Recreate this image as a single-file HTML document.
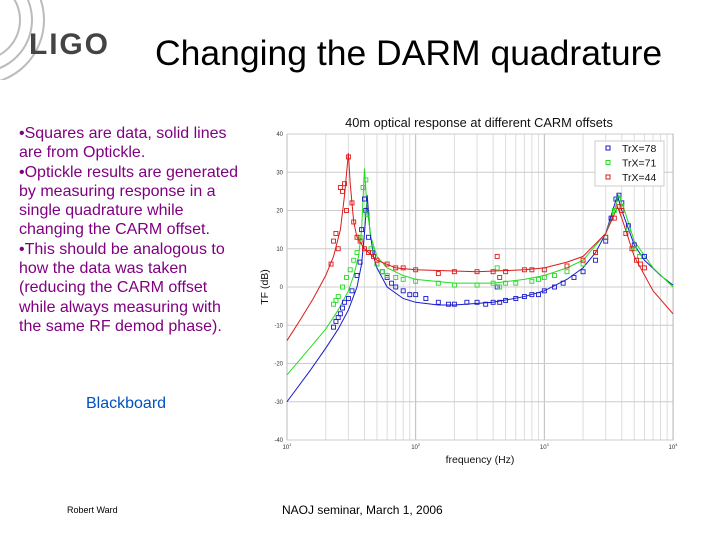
<!DOCTYPE html>
<html><head><meta charset="utf-8"><style>
body{margin:0;width:720px;height:540px;background:#fff;position:relative;overflow:hidden;font-family:"Liberation Sans",sans-serif}
.abs{position:absolute}
#bul{left:19px;top:124px;font-size:16px;line-height:19.3px;color:#800080;white-space:nowrap}
</style></head><body>
<svg class="abs" style="left:0;top:0" width="140" height="80">
<g fill="none" stroke="#bbb" stroke-width="2"><circle cx="-20" cy="20" r="40"/><circle cx="-20" cy="20" r="52"/><circle cx="-20" cy="20" r="64"/></g>
<text x="29" y="54" style="font:bold 30px 'Liberation Sans',sans-serif" fill="#444" textLength="79">LIGO</text></svg>
<div class="abs" style="left:155px;top:33px;font-size:35.5px;color:#000;white-space:nowrap">Changing the DARM quadrature</div>
<div class="abs" id="bul">•Squares are data, solid lines<br>are from Optickle.<br>•Optickle results are generated<br>by measuring response in a<br>single quadrature while<br>changing the CARM offset.<br>•This should be analogous to<br>how the data was taken<br>(reducing the CARM offset<br>while always measuring with<br>the same RF demod phase).</div>
<div class="abs" style="left:86px;top:395px;font-size:16px;color:#0050c0">Blackboard</div>
<div class="abs" style="left:67px;top:505px;font-size:9px">Robert Ward</div>
<div class="abs" style="left:282px;top:503px;font-size:12px">NAOJ seminar, March 1, 2006</div>
<svg id="ch" class="abs" style="left:0;top:0" width="720" height="540"></svg>
<script>
const yTicks=[-40,-30,-20,-10,0,10,20,30,40];
const xTickLabels=["10","10","10","10"];const xTickExp=["1","2","3","4"];
const seriesNames=["TrX=78","TrX=71","TrX=44"];
const blueLineF=[10,15,20,25,30,35,38,40,42,44,47,50,60,80,100,150,200,400,700,1000,1500,2000,2500,3000,3400,3700,4000,5000,6000,8000,10000];
const blueLineD=[-30,-22,-16,-11,-6,0,6,14,24,15,8,5,0,-3,-4,-4.7,-4.7,-4,-2.5,-1,2,5,9,14,20,24,20,11,7,3,0.5];
const greenLineF=[10,15,20,25,30,33,36,38,40,42,45,50,60,80,100,200,400,700,1000,1500,2000,3000,3500,3800,4200,5000,7000,10000];
const greenLineD=[-23,-16,-11,-6,-1,3,8,15,31,20,13,8,5,3,2,1,1,2,3,5,7,14,20,24,20,12,5,0];
const redLineF=[10,13,16,20,23,26,28,30,31,33,35,40,50,70,100,300,700,1000,1500,2000,3000,3500,3700,4000,5000,7000,10000];
const redLineD=[-14,-8,-3,3,8,15,24,35,27,17,13,10,7,5,4.5,4,4.5,5,6.5,8,14,19,21,18,8,-1,-7];
const blueDataF=[23,24,25,26,27,28,30,32,35,37,38,40,41,43,46,50,55,60,65,70,80,90,100,120,150,180,200,250,300,350,400,430,450,500,600,700,800,900,1000,1200,1400,1700,2000,2500,3000,3300,3600,3800,4000,4500,5000,6000];
const blueDataD=[-10.5,-9,-8,-7,-5.5,-4,-3,-1,3,6.5,15,23,20,13,9,6,4,2.5,1,0,-1,-2,-2,-3,-4,-4.5,-4.5,-4,-4,-4.5,-4,0,-4,-3.5,-3,-2.5,-2,-2,-1,0,1,2.5,4,7,12,18,23,24,22,16,11,8];
const greenDataF=[23,24,25,27,29,31,33,35,37,39,41,42,45,50,55,60,70,80,100,150,200,300,400,430,450,500,600,800,900,1000,1200,1500,2000,2500,3000,3500,3800,4000,4500,5000,5500];
const greenDataD=[-4.5,-3.5,-2.5,0,2.5,4.5,7,9,13,26,28,19,10,6,4,3,2.5,2,1.5,1,0.5,0.5,1,5,0,1,1,1.5,2,2.5,3,4,6,9,13,20,23,21,15,10,8];
const redDataF=[22,23,24,25,26,27,28,29,30,32,33,35,37,40,43,47,50,60,70,80,100,150,200,300,400,430,450,500,700,800,1000,1500,2000,2500,3000,3500,3800,4000,4300,4800,5200,5600,6000];
const redDataD=[6,12,14,10,26,25,27,20,34,22,17,13,12,10,9,8,7,6,5,5,4.5,3.5,4,4,4,8,2.5,4,4.5,4.5,4.5,5.5,7,9,13,18,21,20,14,10,7,6,5];
const colors=["#1a1acc","#22dd22","#dd1a1a"];
const X0=287,X1=673,Y0=134,Y1=440;
const sx=f=>X0+(Math.log10(f)-1)/3*(X1-X0);
const sy=d=>Y0+(40-d)/80*(Y1-Y0);
const svg=document.getElementById('ch');const NS="http://www.w3.org/2000/svg";
function mk(t,a,p){const e=document.createElementNS(NS,t);for(const k in a)e.setAttribute(k,a[k]);(p||svg).appendChild(e);return e;}
for(let dec=1;dec<=3;dec++)for(let m=1;m<10;m++){const x=sx(m*Math.pow(10,dec));const g=mk('line',{x1:x,x2:x,y1:Y0,y2:Y1,stroke:m==1?'#bbb':'#ddd','stroke-width':1});

}
yTicks.forEach(v=>{const g=mk('line',{x1:X0,x2:X1,y1:sy(v),y2:sy(v),stroke:'#ccc'});


const t=mk('text',{x:X0-4,y:sy(v)+2,'font-size':6,'text-anchor':'end',fill:'#333'});t.textContent=v;

});
mk('rect',{x:X1,y:Y0,width:0.1,height:Y1-Y0,stroke:'#bbb',fill:'none'});
xTickLabels.forEach((l,i)=>{const t=mk('text',{x:sx(Math.pow(10,i+1)),y:Y1+9,'font-size':6,'text-anchor':'middle',fill:'#333'});t.textContent=l;


const s=mk('tspan',{dy:-3,'font-size':4});s.textContent=xTickExp[i];t.appendChild(s);});
let t=mk('text',{x:479,y:127,'font-size':12.8,'text-anchor':'middle',fill:'#111'});t.textContent='40m optical response at different CARM offsets';


t=mk('text',{x:480,y:463,'font-size':10.5,'text-anchor':'middle',fill:'#111'});t.textContent='frequency (Hz)';


t=mk('text',{x:0,y:0,'font-size':10.5,'text-anchor':'middle',fill:'#111',transform:'translate(268,287) rotate(-90)'});t.textContent='TF (dB)';


const lines=[[blueLineF,blueLineD],[greenLineF,greenLineD],[redLineF,redLineD]];
const datas=[[blueDataF,blueDataD],[greenDataF,greenDataD],[redDataF,redDataD]];
lines.forEach((s,i)=>{const p=mk('polyline',{points:s[0].map((f,j)=>sx(f)+','+sy(s[1][j])).join(' '),fill:'none',stroke:colors[i],'stroke-width':1});

});
datas.forEach((s,i)=>s[0].forEach((f,j)=>{const r=mk('rect',{x:sx(f)-2,y:sy(s[1][j])-2,width:4,height:4,fill:'none',stroke:colors[i],'stroke-width':0.9});

}));
const lg=mk('rect',{x:595,y:141,width:69,height:45,fill:'#fff',stroke:'#ccc'});


seriesNames.forEach((n,i)=>{const y=150+i*14.5;mk('rect',{x:606,y:y-4,width:4,height:4,fill:'none',stroke:colors[i]});
const tt=mk('text',{x:622,y:y+2,'font-size':10.5,fill:'#111'});tt.textContent=n;

});
</script>
</body></html>
